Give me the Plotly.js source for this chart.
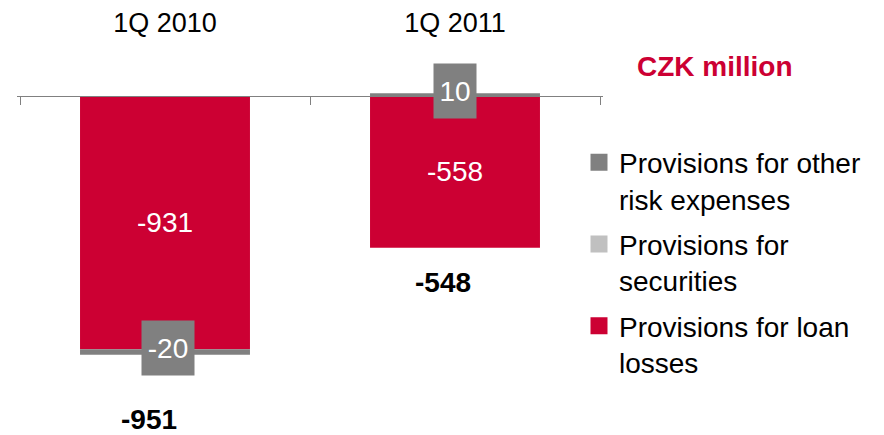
<!DOCTYPE html>
<html>
<head>
<meta charset="utf-8">
<script src="https://cdn.plot.ly/plotly-3.0.1.min.js"></script>
<style>html,body{margin:0;padding:0;background:#fff;}#chart{width:884px;height:435px;}</style>
</head>
<body>
<div id="chart"></div>
<script>
// ---- data ----
const categories = ['1Q 2010', '1Q 2011'];
const loanLosses = [-931, -558];
const securities = [0, 0];
const otherRisk = [-20, 10];
const totals = [-951, -548];
const seriesNames = ['Provisions for loan<br>losses', 'Provisions for<br>securities', 'Provisions for other<br>risk expenses'];
const unitLabel = 'CZK million';

// ---- styles ----
const RED = '#CC0033', GRAY = '#808080', LIGHT = '#C0C0C0';
const FONT = 'Liberation Sans, Arial, sans-serif';
const FS = 28;
const colors = [RED, LIGHT, GRAY];
const seriesValues = [loanLosses, securities, otherRisk];
const ranks = [3, 2, 1];

const fmt = v => String(v);

// y scale: px per unit and plot box
const H = 435, TOP = 40, ZERO_PX = 96, PPU = 0.272;
const yMin = -(H - ZERO_PX) / PPU;
const yMax = (ZERO_PX - TOP) / PPU;
// x: category band 290px, axis from 20 to 600px
const EXT = 0.01, BAND = 290;

const traces = [];
seriesValues.forEach((vals, k) => {
  const t = {
    type: 'bar', x: categories, y: vals, name: seriesNames[k],
    marker: {color: colors[k]}, showlegend: false,
    cliponaxis: false, hoverinfo: 'skip'
  };
  if (k === 0) {
    Object.assign(t, {
      text: vals.map(fmt), textposition: 'inside', insidetextanchor: 'middle',
      textfont: {color: '#fff', size: FS, family: FONT}, textangle: 0
    });
  }
  traces.push(t);
});
// legend entries (bigger swatches)
seriesValues.forEach((vals, k) => {
  traces.push({
    type: 'bar', x: [categories[0]], y: [null], name: seriesNames[k],
    marker: {color: colors[k], line: {color: colors[k], width: 5}},
    legendgroup: 'g' + k, legendrank: ranks[k], showlegend: true, hoverinfo: 'skip'
  });
});

// annotation positions computed from data (relative stacking)
const annotations = [];
categories.forEach((c, i) => {
  const o = otherRisk[i];
  const base = o < 0 ? loanLosses[i] : 0;
  annotations.push({
    x: c, y: base + o / 2, xref: 'x', yref: 'y', text: fmt(o), showarrow: false,
    font: {color: '#fff', size: FS, family: FONT}, bgcolor: GRAY,
    width: i === 0 ? 52 : 42, height: 54, borderpad: 0, yshift: 4, xshift: i === 0 ? 3 : 0
  });
  annotations.push({
    x: c, y: totals[i], xref: 'x', yref: 'y', text: '<b>' + fmt(totals[i]) + '</b>', showarrow: false,
    font: {color: '#000', size: FS, family: FONT},
    yshift: i === 0 ? -65 : -37, xshift: i === 0 ? -16 : -12
  });
});
annotations.push({
  x: 715 / 884, xanchor: 'center', y: (H - 66) / (H - TOP), yanchor: 'middle',
  xref: 'paper', yref: 'paper',
  text: '<b>' + unitLabel + '</b>', showarrow: false,
  font: {color: RED, size: FS, family: FONT}
});

const layout = {
  width: 884, height: H,
  margin: {l: 0, r: 0, t: TOP, b: 0, pad: 0},
  paper_bgcolor: '#fff', plot_bgcolor: '#fff',
  barmode: 'relative', bargap: 0.414,
  font: {family: FONT, size: FS, color: '#000'},
  showlegend: true,
  legend: {
    x: 579 / 884, y: (H - 137.5) / (H - TOP), xanchor: 'left', yanchor: 'top',
    traceorder: 'grouped', tracegroupgap: 6, valign: 'top',
    font: {size: 28, family: FONT, color: '#000'}, bgcolor: 'rgba(0,0,0,0)'
  },
  xaxis: {
    type: 'category', domain: [(20 - EXT * BAND) / 884, (600 + EXT * BAND) / 884],
    range: [-0.5 - EXT, 1.5 + EXT],
    side: 'top', anchor: 'free', position: (0 - yMin) / (yMax - yMin),
    showline: true, linecolor: GRAY, linewidth: 1,
    ticks: 'inside', ticklen: 8, tickcolor: GRAY, tickson: 'boundaries',
    tickfont: {size: 27, family: FONT, color: '#000'}, ticklabelstandoff: 53,
    showgrid: false, zeroline: false, fixedrange: true
  },
  yaxis: {
    range: [yMin, yMax], visible: false, showgrid: false, zeroline: false, fixedrange: true
  },
  annotations: annotations
};

Plotly.newPlot('chart', traces, layout, {staticPlot: true, displayModeBar: false});
</script>
</body>
</html>
